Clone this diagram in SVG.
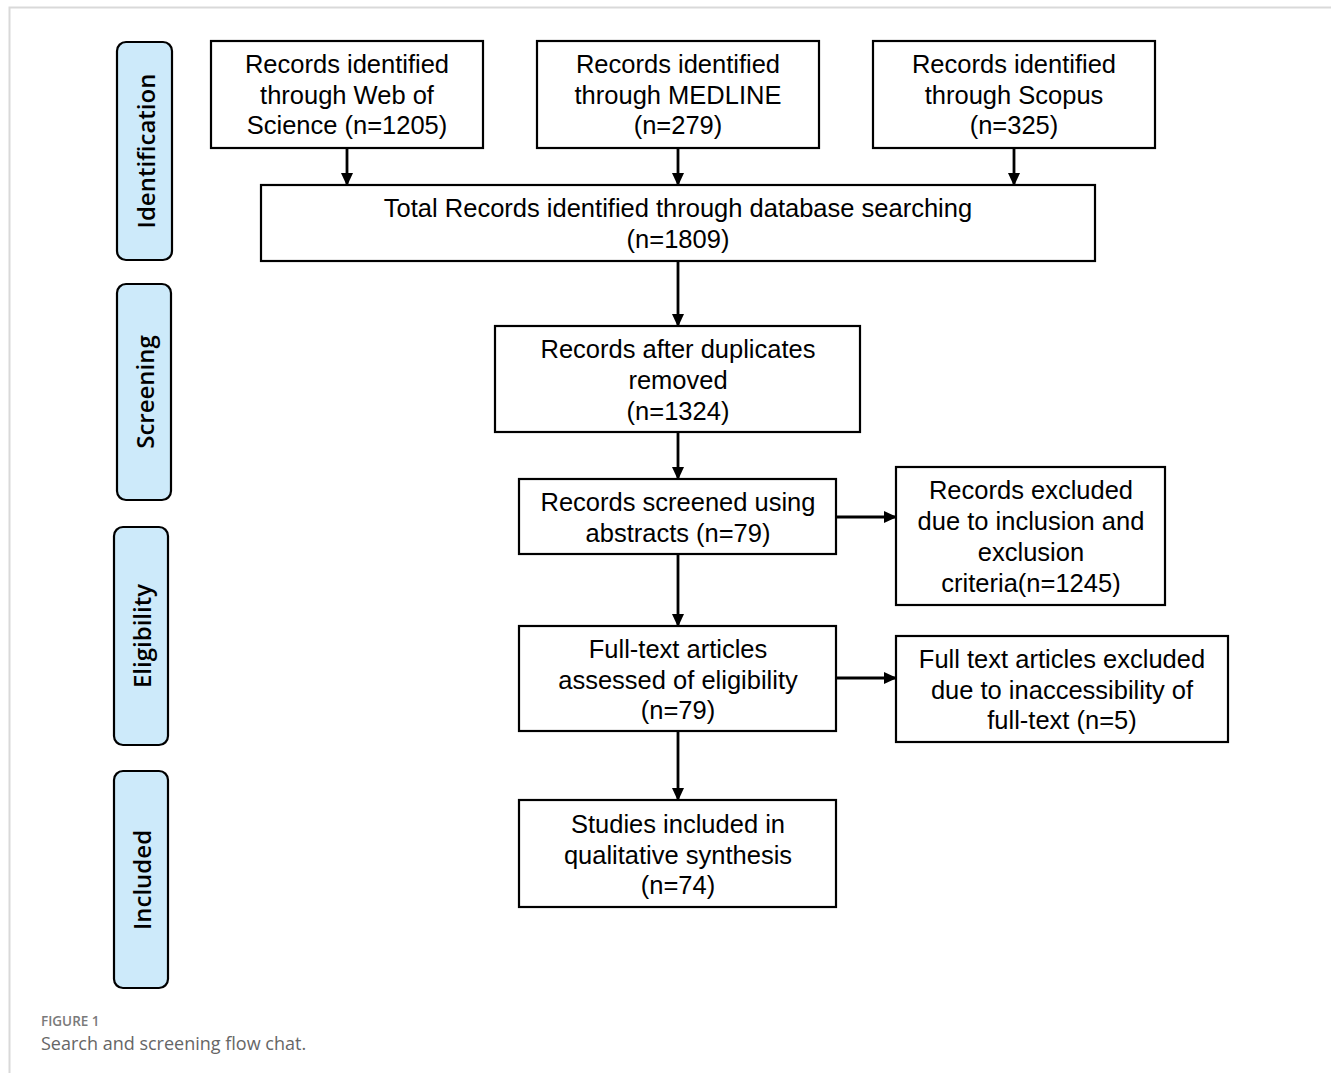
<svg xmlns="http://www.w3.org/2000/svg" width="1331" height="1073" viewBox="0 0 1331 1073">
<defs>
<marker id="ah" markerWidth="13" markerHeight="13" refX="12" refY="6.5" orient="auto" markerUnits="userSpaceOnUse">
<path d="M0,0.5 L13,6.5 L0,12.5 Z" fill="#000"/>
</marker>
<style>
.box{fill:#fff;stroke:#000;stroke-width:2.2}
.lane{fill:#cdeafa;stroke:#000;stroke-width:2.2}
.t{font-family:"Liberation Sans",Arial,sans-serif;font-size:25.5px;fill:#000;text-anchor:middle}
.lt{font-family:"Open Sans","Noto Sans",sans-serif;font-weight:600;font-size:24px;fill:#000;text-anchor:middle;dominant-baseline:central}
.c{stroke:#000;stroke-width:2.8;fill:none;marker-end:url(#ah)}
</style>
</defs>
<rect width="1331" height="1073" fill="#fff"/>
<path d="M9.5,1073 V7.5 H1331" fill="none" stroke="#d9d9d9" stroke-width="2"/>

<g id="lane-identification"><rect class="lane" x="117" y="42" width="55" height="218" rx="9"/><text class="lt" transform="translate(145,151) rotate(-90)">Identification</text></g>
<g id="lane-screening"><rect class="lane" x="117" y="284" width="54" height="216" rx="9"/><text class="lt" transform="translate(144,392) rotate(-90)">Screening</text></g>
<g id="lane-eligibility"><rect class="lane" x="114" y="527" width="54" height="218" rx="9"/><text class="lt" transform="translate(141,636) rotate(-90)">Eligibility</text></g>
<g id="lane-included"><rect class="lane" x="114" y="771" width="54" height="217" rx="9"/><text class="lt" transform="translate(141,880) rotate(-90)">Included</text></g>

<g id="wos"><rect class="box" x="211" y="41" width="272" height="107"/><text class="t" x="347" y="73">Records identified</text><text class="t" x="347" y="104">through Web of</text><text class="t" x="347" y="134">Science (n=1205)</text></g>
<g id="medline"><rect class="box" x="537" y="41" width="282" height="107"/><text class="t" x="678" y="73">Records identified</text><text class="t" x="678" y="104">through MEDLINE</text><text class="t" x="678" y="134">(n=279)</text></g>
<g id="scopus"><rect class="box" x="873" y="41" width="282" height="107"/><text class="t" x="1014" y="73">Records identified</text><text class="t" x="1014" y="104">through Scopus</text><text class="t" x="1014" y="134">(n=325)</text></g>
<g id="total"><rect class="box" x="261" y="185" width="834" height="76"/><text class="t" x="678" y="217">Total Records identified through database searching</text><text class="t" x="678" y="248">(n=1809)</text></g>
<g id="dedup"><rect class="box" x="495" y="326" width="365" height="106"/><text class="t" x="678" y="358">Records after duplicates</text><text class="t" x="678" y="389">removed</text><text class="t" x="678" y="420">(n=1324)</text></g>
<g id="screened"><rect class="box" x="519" y="479" width="317" height="75"/><text class="t" x="678" y="511">Records screened using</text><text class="t" x="678" y="542">abstracts (n=79)</text></g>
<g id="excluded1"><rect class="box" x="896" y="467" width="269" height="138"/><text class="t" x="1031" y="499">Records excluded</text><text class="t" x="1031" y="530">due to inclusion and</text><text class="t" x="1031" y="561">exclusion</text><text class="t" x="1031" y="592">criteria(n=1245)</text></g>
<g id="fulltext"><rect class="box" x="519" y="626" width="317" height="105"/><text class="t" x="678" y="658">Full-text articles</text><text class="t" x="678" y="689">assessed of eligibility</text><text class="t" x="678" y="719">(n=79)</text></g>
<g id="excluded2"><rect class="box" x="896" y="636" width="332" height="106"/><text class="t" x="1062" y="668">Full text articles excluded</text><text class="t" x="1062" y="699">due to inaccessibility of</text><text class="t" x="1062" y="729">full-text (n=5)</text></g>
<g id="included"><rect class="box" x="519" y="800" width="317" height="107"/><text class="t" x="678" y="833">Studies included in</text><text class="t" x="678" y="864">qualitative synthesis</text><text class="t" x="678" y="894">(n=74)</text></g>

<g id="connectors">
<line class="c" x1="347" y1="148" x2="347" y2="185"/>
<line class="c" x1="678" y1="148" x2="678" y2="185"/>
<line class="c" x1="1014" y1="148" x2="1014" y2="185"/>
<line class="c" x1="678" y1="261" x2="678" y2="326"/>
<line class="c" x1="678" y1="432" x2="678" y2="479"/>
<line class="c" x1="678" y1="554" x2="678" y2="626"/>
<line class="c" x1="836" y1="517" x2="896" y2="517"/>
<line class="c" x1="678" y1="731" x2="678" y2="800"/>
<line class="c" x1="836" y1="678" x2="896" y2="678"/>
</g>

<g id="caption">
<text x="41" y="1026" font-family="'Open Sans','Noto Sans',sans-serif" font-weight="600" font-size="13.5" fill="#7a7a7a">FIGURE 1</text>
<text x="41" y="1050" font-family="'Open Sans','Noto Sans',sans-serif" font-size="18" fill="#666">Search and screening flow chat.</text>
</g>
</svg>
